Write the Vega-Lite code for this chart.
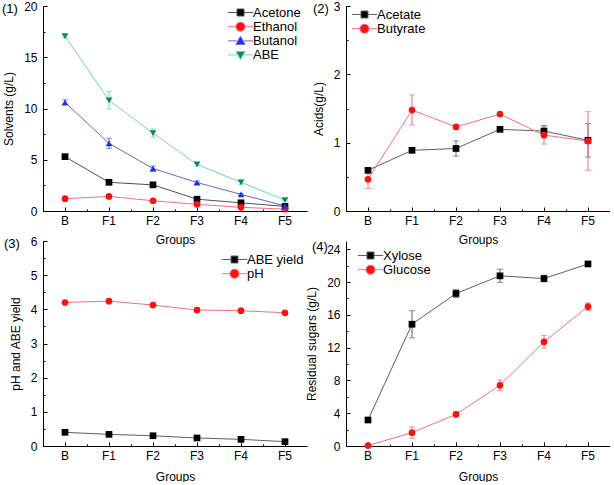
{
  "$schema": "https://vega.github.io/schema/vega-lite/v6.json",
  "padding": {"left": 2, "top": 0, "right": 0, "bottom": 0},
  "background": "white",
  "bounds": "flush",
  "columns": 2,
  "spacing": {"row": 30, "column": 39},
  "resolve": {"scale": {"color": "independent", "shape": "independent"}},
  "datasets": {
    "solvents": [
      {"group": "B", "series": "Acetone", "value": 5.3, "err": 0.1},
      {"group": "F1", "series": "Acetone", "value": 2.8, "err": 0.15},
      {"group": "F2", "series": "Acetone", "value": 2.55, "err": 0.2},
      {"group": "F3", "series": "Acetone", "value": 1.15, "err": 0.1},
      {"group": "F4", "series": "Acetone", "value": 0.8, "err": 0.05},
      {"group": "F5", "series": "Acetone", "value": 0.45, "err": 0.03},
      {"group": "B", "series": "Ethanol", "value": 1.2, "err": 0.05},
      {"group": "F1", "series": "Ethanol", "value": 1.42, "err": 0.1},
      {"group": "F2", "series": "Ethanol", "value": 1.0, "err": 0.05},
      {"group": "F3", "series": "Ethanol", "value": 0.65, "err": 0.05},
      {"group": "F4", "series": "Ethanol", "value": 0.36, "err": 0.03},
      {"group": "F5", "series": "Ethanol", "value": 0.18, "err": 0.02},
      {"group": "B", "series": "Butanol", "value": 10.6, "err": 0.25},
      {"group": "F1", "series": "Butanol", "value": 6.6, "err": 0.5},
      {"group": "F2", "series": "Butanol", "value": 4.14, "err": 0.25},
      {"group": "F3", "series": "Butanol", "value": 2.78, "err": 0.15},
      {"group": "F4", "series": "Butanol", "value": 1.62, "err": 0.1},
      {"group": "F5", "series": "Butanol", "value": 0.5, "err": 0.05},
      {"group": "B", "series": "ABE", "value": 17.05, "err": 0.15},
      {"group": "F1", "series": "ABE", "value": 10.8, "err": 0.85},
      {"group": "F2", "series": "ABE", "value": 7.6, "err": 0.4},
      {"group": "F3", "series": "ABE", "value": 4.55, "err": 0.15},
      {"group": "F4", "series": "ABE", "value": 2.8, "err": 0.2},
      {"group": "F5", "series": "ABE", "value": 1.07, "err": 0.1}
    ],
    "acids": [
      {"group": "B", "series": "Acetate", "value": 0.595, "err": 0.03},
      {"group": "F1", "series": "Acetate", "value": 0.888, "err": 0.02},
      {"group": "F2", "series": "Acetate", "value": 0.915, "err": 0.11},
      {"group": "F3", "series": "Acetate", "value": 1.195, "err": 0.03},
      {"group": "F4", "series": "Acetate", "value": 1.17, "err": 0.08},
      {"group": "F5", "series": "Acetate", "value": 1.035, "err": 0.245},
      {"group": "B", "series": "Butyrate", "value": 0.463, "err": 0.135},
      {"group": "F1", "series": "Butyrate", "value": 1.478, "err": 0.22},
      {"group": "F2", "series": "Butyrate", "value": 1.23, "err": 0.02},
      {"group": "F3", "series": "Butyrate", "value": 1.418, "err": 0.02},
      {"group": "F4", "series": "Butyrate", "value": 1.11, "err": 0.13},
      {"group": "F5", "series": "Butyrate", "value": 1.024, "err": 0.43}
    ],
    "ph": [
      {"group": "B", "series": "ABE yield", "value": 0.4, "err": 0.02},
      {"group": "F1", "series": "ABE yield", "value": 0.34, "err": 0.02},
      {"group": "F2", "series": "ABE yield", "value": 0.3, "err": 0.02},
      {"group": "F3", "series": "ABE yield", "value": 0.235, "err": 0.02},
      {"group": "F4", "series": "ABE yield", "value": 0.195, "err": 0.02},
      {"group": "F5", "series": "ABE yield", "value": 0.127, "err": 0.02},
      {"group": "B", "series": "pH", "value": 4.2, "err": 0.03},
      {"group": "F1", "series": "pH", "value": 4.24, "err": 0.03},
      {"group": "F2", "series": "pH", "value": 4.125, "err": 0.03},
      {"group": "F3", "series": "pH", "value": 3.98, "err": 0.07},
      {"group": "F4", "series": "pH", "value": 3.96, "err": 0.03},
      {"group": "F5", "series": "pH", "value": 3.9, "err": 0.03}
    ],
    "sugars": [
      {"group": "B", "series": "Xylose", "value": 3.17, "err": 0.1},
      {"group": "F1", "series": "Xylose", "value": 14.85, "err": 1.65},
      {"group": "F2", "series": "Xylose", "value": 18.6, "err": 0.5},
      {"group": "F3", "series": "Xylose", "value": 20.75, "err": 0.8},
      {"group": "F4", "series": "Xylose", "value": 20.42, "err": 0.4},
      {"group": "F5", "series": "Xylose", "value": 22.2, "err": 0.15},
      {"group": "B", "series": "Glucose", "value": 0.05, "err": 0.05},
      {"group": "F1", "series": "Glucose", "value": 1.63, "err": 0.7},
      {"group": "F2", "series": "Glucose", "value": 3.86, "err": 0.3},
      {"group": "F3", "series": "Glucose", "value": 7.4, "err": 0.65},
      {"group": "F4", "series": "Glucose", "value": 12.7, "err": 0.77},
      {"group": "F5", "series": "Glucose", "value": 17.0, "err": 0.45}
    ]
  },
  "concat": [
    {
      "width": 264, "height": 205,
      "data": {"name": "solvents"},
      "title": {"text": "(1)", "anchor": "start", "frame": "group", "dx": -41, "dy": 20},
      "layer": [
        {
          "mark": {"type": "errorbar", "ticks": {"size": 6}, "thickness": 1},
          "encoding": {
            "x": {"field": "group", "type": "nominal", "scale": {"type": "band", "paddingInner": 0, "paddingOuter": 0}, "axis": null},
            "y": {"field": "value", "type": "quantitative", "scale": {"domain": [0, 20]}, "axis": null},
            "yError": {"field": "err"},
            "color": {"field": "series", "type": "nominal", "scale": {"domain": ["Acetone", "Ethanol", "Butanol", "ABE"], "range": ["#505050", "#f07080", "#6666cc", "#66dda8"]}, "legend": null}
          }
        },
        {
          "mark": {"type": "line", "strokeWidth": 1},
          "encoding": {
            "x": {"field": "group", "type": "nominal", "scale": {"type": "band", "paddingInner": 0, "paddingOuter": 0}, "axis": {"orient": "bottom", "bandPosition": 0, "labels": false, "domain": false, "tickSize": -2, "title": null}},
            "y": {"field": "value", "type": "quantitative", "scale": {"domain": [0, 20]}, "axis": {"orient": "left", "values": [2.5, 7.5, 12.5, 17.5], "labels": false, "domain": false, "tickSize": -2, "title": null}},
            "color": {"field": "series", "type": "nominal", "scale": {"domain": ["Acetone", "Ethanol", "Butanol", "ABE"], "range": ["#505050", "#f07080", "#6666cc", "#66dda8"]}, "legend": null}
          }
        },
        {
          "mark": {"type": "point", "filled": true, "size": 45, "opacity": 1},
          "encoding": {
            "x": {"field": "group", "type": "nominal", "scale": {"type": "band", "paddingInner": 0, "paddingOuter": 0}, "axis": {"orient": "bottom", "title": "Groups"}},
            "y": {"field": "value", "type": "quantitative", "scale": {"domain": [0, 20]}, "axis": {"orient": "left", "title": "Solvents (g/L)", "values": [0, 5, 10, 15, 20]}},
            "color": {"field": "series", "type": "nominal", "scale": {"domain": ["Acetone", "Ethanol", "Butanol", "ABE"], "range": ["#000000", "#ff1010", "#1a33e6", "#0a8a5c"]},
              "legend": {"orient": "none", "legendX": 191, "legendY": 0,
                "encode": {"symbols": {"update": {
                  "shape": {"signal": "datum.value == 'Acetone' ? 'M-3.6,0H-1M1,0H3.6M-1,-1H1V1H-1Z' : datum.value == 'Ethanol' ? 'M-3.6,0H-1.3M1.3,0H3.6M-1.3,0A1.3,1.3,0,1,1,1.3,0A1.3,1.3,0,1,1,-1.3,0Z' : datum.value == 'Butanol' ? 'M-3.6,0H-1M1,0H3.6M0,-1.3L1.3,1L-1.3,1Z' : 'M-3.6,0H-1M1,0H3.6M0,1.3L1.3,-1L-1.3,-1Z'"},
                  "stroke": {"signal": "datum.value == 'Acetone' ? '#505050' : datum.value == 'Ethanol' ? '#f07080' : datum.value == 'Butanol' ? '#6666cc' : '#66dda8'"},
                  "strokeWidth": {"value": 1}
                }}}}},
            "shape": {"field": "series", "type": "nominal", "scale": {"domain": ["Acetone", "Ethanol", "Butanol", "ABE"], "range": ["square", "circle", "triangle-up", "triangle-down"]}, "legend": null}
          }
        }
      ],
      "resolve": {"scale": {"color": "independent"}, "axis": {"x": "independent", "y": "independent"}}
    },
    {
      "width": 264, "height": 205,
      "data": {"name": "acids"},
      "title": {"text": "(2)", "anchor": "start", "frame": "group", "dx": -33, "dy": 20},
      "layer": [
        {
          "mark": {"type": "errorbar", "ticks": {"size": 6}, "thickness": 1},
          "encoding": {
            "x": {"field": "group", "type": "nominal", "scale": {"type": "band", "paddingInner": 0, "paddingOuter": 0}, "axis": null},
            "y": {"field": "value", "type": "quantitative", "scale": {"domain": [0, 3]}, "axis": null},
            "yError": {"field": "err"},
            "color": {"field": "series", "type": "nominal", "scale": {"domain": ["Acetate", "Butyrate"], "range": ["#606060", "#f07080"]}, "legend": null}
          }
        },
        {
          "mark": {"type": "line", "strokeWidth": 1},
          "encoding": {
            "x": {"field": "group", "type": "nominal", "scale": {"type": "band", "paddingInner": 0, "paddingOuter": 0}, "axis": {"orient": "bottom", "bandPosition": 0, "labels": false, "domain": false, "tickSize": -2, "title": null}},
            "y": {"field": "value", "type": "quantitative", "scale": {"domain": [0, 3]}, "axis": {"orient": "left", "values": [0.5, 1.5, 2.5], "labels": false, "domain": false, "tickSize": -2, "title": null}},
            "color": {"field": "series", "type": "nominal", "scale": {"domain": ["Acetate", "Butyrate"], "range": ["#606060", "#f07080"]}, "legend": null}
          }
        },
        {
          "mark": {"type": "point", "filled": true, "size": 45, "opacity": 1},
          "encoding": {
            "x": {"field": "group", "type": "nominal", "scale": {"type": "band", "paddingInner": 0, "paddingOuter": 0}, "axis": {"orient": "bottom", "title": "Groups"}},
            "y": {"field": "value", "type": "quantitative", "scale": {"domain": [0, 3]}, "axis": {"orient": "left", "title": "Acids(g/L)", "values": [0, 1, 2, 3]}},
            "color": {"field": "series", "type": "nominal", "scale": {"domain": ["Acetate", "Butyrate"], "range": ["#000000", "#ff1010"]},
              "legend": {"orient": "none", "legendX": 12, "legendY": 2,
                "encode": {"symbols": {"update": {
                  "shape": {"signal": "datum.value == 'Acetate' ? 'M-3.6,0H-1M1,0H3.6M-1,-1H1V1H-1Z' : 'M-3.6,0H-1.3M1.3,0H3.6M-1.3,0A1.3,1.3,0,1,1,1.3,0A1.3,1.3,0,1,1,-1.3,0Z'"},
                  "stroke": {"signal": "datum.value == 'Acetate' ? '#606060' : '#f07080'"},
                  "strokeWidth": {"value": 1}
                }}}}},
            "shape": {"field": "series", "type": "nominal", "scale": {"domain": ["Acetate", "Butyrate"], "range": ["square", "circle"]}, "legend": null}
          }
        }
      ],
      "resolve": {"scale": {"color": "independent"}, "axis": {"x": "independent", "y": "independent"}}
    },
    {
      "width": 264, "height": 205,
      "data": {"name": "ph"},
      "title": {"text": "(3)", "anchor": "start", "frame": "group", "dx": -39, "dy": 20},
      "layer": [
        {
          "mark": {"type": "errorbar", "ticks": {"size": 6}, "thickness": 1},
          "encoding": {
            "x": {"field": "group", "type": "nominal", "scale": {"type": "band", "paddingInner": 0, "paddingOuter": 0}, "axis": null},
            "y": {"field": "value", "type": "quantitative", "scale": {"domain": [0, 6]}, "axis": null},
            "yError": {"field": "err"},
            "color": {"field": "series", "type": "nominal", "scale": {"domain": ["ABE yield", "pH"], "range": ["#606060", "#f07080"]}, "legend": null}
          }
        },
        {
          "mark": {"type": "line", "strokeWidth": 1},
          "encoding": {
            "x": {"field": "group", "type": "nominal", "scale": {"type": "band", "paddingInner": 0, "paddingOuter": 0}, "axis": {"orient": "bottom", "bandPosition": 0, "labels": false, "domain": false, "tickSize": -2, "title": null}},
            "y": {"field": "value", "type": "quantitative", "scale": {"domain": [0, 6]}, "axis": {"orient": "left", "values": [0.5, 1.5, 2.5, 3.5, 4.5, 5.5], "labels": false, "domain": false, "tickSize": -2, "title": null}},
            "color": {"field": "series", "type": "nominal", "scale": {"domain": ["ABE yield", "pH"], "range": ["#606060", "#f07080"]}, "legend": null}
          }
        },
        {
          "mark": {"type": "point", "filled": true, "size": 45, "opacity": 1},
          "encoding": {
            "x": {"field": "group", "type": "nominal", "scale": {"type": "band", "paddingInner": 0, "paddingOuter": 0}, "axis": {"orient": "bottom", "title": "Groups", "titlePadding": 10}},
            "y": {"field": "value", "type": "quantitative", "scale": {"domain": [0, 6]}, "axis": {"orient": "left", "title": "pH and ABE yield", "values": [0, 1, 2, 3, 4, 5, 6]}},
            "color": {"field": "series", "type": "nominal", "scale": {"domain": ["ABE yield", "pH"], "range": ["#000000", "#ff1010"]},
              "legend": {"orient": "none", "legendX": 185, "legendY": 12,
                "encode": {"symbols": {"update": {
                  "shape": {"signal": "datum.value == 'ABE yield' ? 'M-3.6,0H-1M1,0H3.6M-1,-1H1V1H-1Z' : 'M-3.6,0H-1.3M1.3,0H3.6M-1.3,0A1.3,1.3,0,1,1,1.3,0A1.3,1.3,0,1,1,-1.3,0Z'"},
                  "stroke": {"signal": "datum.value == 'ABE yield' ? '#606060' : '#f07080'"},
                  "strokeWidth": {"value": 1}
                }}}}},
            "shape": {"field": "series", "type": "nominal", "scale": {"domain": ["ABE yield", "pH"], "range": ["square", "circle"]}, "legend": null}
          }
        }
      ],
      "resolve": {"scale": {"color": "independent"}, "axis": {"x": "independent", "y": "independent"}}
    },
    {
      "width": 264, "height": 205,
      "data": {"name": "sugars"},
      "title": {"text": "(4)", "anchor": "start", "frame": "group", "dx": -34, "dy": 17},
      "layer": [
        {
          "mark": {"type": "errorbar", "ticks": {"size": 6}, "thickness": 1},
          "encoding": {
            "x": {"field": "group", "type": "nominal", "scale": {"type": "band", "paddingInner": 0, "paddingOuter": 0}, "axis": null},
            "y": {"field": "value", "type": "quantitative", "scale": {"domain": [0, 25]}, "axis": null},
            "yError": {"field": "err"},
            "color": {"field": "series", "type": "nominal", "scale": {"domain": ["Xylose", "Glucose"], "range": ["#606060", "#f07080"]}, "legend": null}
          }
        },
        {
          "mark": {"type": "line", "strokeWidth": 1},
          "encoding": {
            "x": {"field": "group", "type": "nominal", "scale": {"type": "band", "paddingInner": 0, "paddingOuter": 0}, "axis": {"orient": "bottom", "bandPosition": 0, "labels": false, "domain": false, "tickSize": -2, "title": null}},
            "y": {"field": "value", "type": "quantitative", "scale": {"domain": [0, 25]}, "axis": {"orient": "left", "values": [2, 6, 10, 14, 18, 22], "labels": false, "domain": false, "tickSize": -2, "title": null}},
            "color": {"field": "series", "type": "nominal", "scale": {"domain": ["Xylose", "Glucose"], "range": ["#606060", "#f07080"]}, "legend": null}
          }
        },
        {
          "mark": {"type": "point", "filled": true, "size": 45, "opacity": 1},
          "encoding": {
            "x": {"field": "group", "type": "nominal", "scale": {"type": "band", "paddingInner": 0, "paddingOuter": 0}, "axis": {"orient": "bottom", "title": "Groups", "titlePadding": 10}},
            "y": {"field": "value", "type": "quantitative", "scale": {"domain": [0, 25]}, "axis": {"orient": "left", "title": "Residual sugars (g/L)", "values": [0, 4, 8, 12, 16, 20, 24]}},
            "color": {"field": "series", "type": "nominal", "scale": {"domain": ["Xylose", "Glucose"], "range": ["#000000", "#ff1010"]},
              "legend": {"orient": "none", "legendX": 18, "legendY": 8,
                "encode": {"symbols": {"update": {
                  "shape": {"signal": "datum.value == 'Xylose' ? 'M-3.6,0H-1M1,0H3.6M-1,-1H1V1H-1Z' : 'M-3.6,0H-1.3M1.3,0H3.6M-1.3,0A1.3,1.3,0,1,1,1.3,0A1.3,1.3,0,1,1,-1.3,0Z'"},
                  "stroke": {"signal": "datum.value == 'Xylose' ? '#606060' : '#f07080'"},
                  "strokeWidth": {"value": 1}
                }}}}},
            "shape": {"field": "series", "type": "nominal", "scale": {"domain": ["Xylose", "Glucose"], "range": ["square", "circle"]}, "legend": null}
          }
        }
      ],
      "resolve": {"scale": {"color": "independent"}, "axis": {"x": "independent", "y": "independent"}}
    }
  ],
  "config": {
    "font": "Liberation Sans",
    "view": {"stroke": null},
    "title": {"fontSize": 13, "fontWeight": "normal", "color": "#000000", "font": "Liberation Sans"},
    "axis": {"domainColor": "#000000", "tickColor": "#000000", "labelColor": "#000000", "titleColor": "#000000", "labelFontSize": 12, "titleFontSize": 12, "titleFontWeight": "normal", "grid": false, "tickSize": -4, "labelPadding": 8, "domainWidth": 1, "tickWidth": 1},
    "axisX": {"labelAngle": 0, "titlePadding": 8},
    "axisY": {"labelPadding": 10, "titlePadding": 8},
    "legend": {"title": null, "symbolSize": 49, "labelFontSize": 13, "labelOffset": 6, "rowPadding": -0.8, "padding": 0, "symbolStrokeWidth": 1, "symbolOpacity": 1, "labelColor": "#000000", "labelFont": "Liberation Sans"}
  }
}
